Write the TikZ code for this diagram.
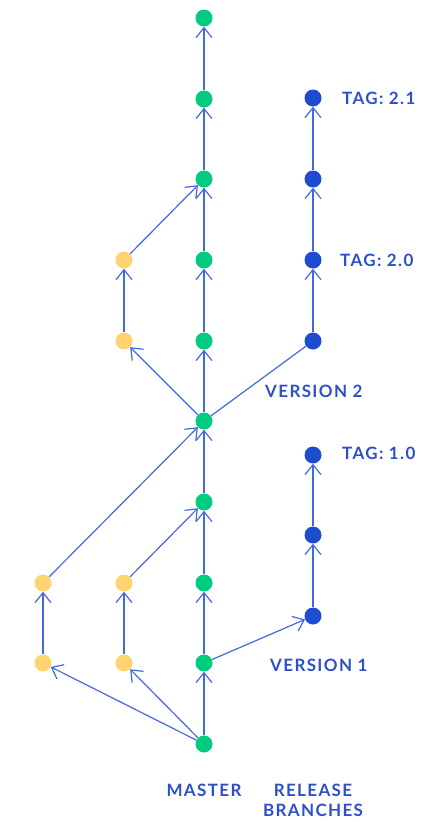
\documentclass[tikz,border=0pt]{standalone}
\usepackage{fontspec}
\setmainfont{Lato}[UprightFont=* Bold]
\newfontfamily\lblfont{Lato}[UprightFont=* Bold,LetterSpace=8]
\usetikzlibrary{arrows.meta}
\definecolor{gcol}{HTML}{00CC80}
\definecolor{ycol}{HTML}{FFD46E}
\definecolor{bcol}{HTML}{1F4BD0}
\definecolor{lcol}{HTML}{4169E1}
\definecolor{tcol}{HTML}{2C50CC}
\tikzset{
  commit/.style={circle,inner sep=0pt,minimum size=17pt},
  gc/.style={commit,fill=gcol},
  yc/.style={commit,fill=ycol},
  bc/.style={commit,fill=bcol},
  link/.style={draw=lcol,line width=1.2pt,-{Straight Barb[length=10pt,width=16pt,line width=1.2pt]}},
  plain/.style={draw=lcol,line width=1.2pt},
  lbl/.style={text=tcol,font=\lblfont\fontsize{17pt}{20pt}\selectfont,inner sep=0pt},
}
\begin{document}
\begin{tikzpicture}[x=1pt,y=-1pt]
\useasboundingbox (0,0) rectangle (435,822);
% master
\foreach \i/\yy in {0/18,1/99,2/179,3/260,4/341,5/421,6/502,7/583,8/663,9/744}
  \node[gc] (m\i) at (204,\yy) {};
% release 2
\node[bc] (b1) at (313,98) {};
\node[bc] (b2) at (313,179) {};
\node[bc] (b3) at (313,260) {};
\node[bc] (b4) at (313,341) {};
% release 1
\node[bc] (c1) at (313,455) {};
\node[bc] (c2) at (313,535) {};
\node[bc] (c3) at (313,616) {};
% features
\node[yc] (y1) at (124,260) {};
\node[yc] (y2) at (124,341) {};
\node[yc] (y3) at (43,583) {};
\node[yc] (y4) at (124,583) {};
\node[yc] (y5) at (43,663) {};
\node[yc] (y6) at (124,663) {};
% master edges
\foreach \a/\b in {1/0,2/1,3/2,4/3,5/4,6/5,7/6,8/7,9/8}
  \draw[link] (m\a) -- (m\b);
\draw[link] (b2) -- (b1);
\draw[link] (b3) -- (b2);
\draw[link] (b4) -- (b3);
\draw[plain] (m5) -- (b4);
\draw[link] (c3) -- (c2);
\draw[link] (c2) -- (c1);
\draw[link] (m8) -- (c3);
\draw[link] (y2) -- (y1);
\draw[link] (y1) -- (m2);
\draw[link] (m5) -- (y2);
\draw[link] (y3) -- (m5);
\draw[link] (y4) -- (m6);
\draw[link] (y5) -- (y3);
\draw[link] (y6) -- (y4);
\draw[link] (m9) -- (y5);
\draw[link] (m9) -- (y6);
% labels
\node[lbl,anchor=west] (t21) at (342,98) {TAG: 2.1};
\node[lbl,anchor=west] (t20) at (340,260) {TAG: 2.0};
\node[lbl,anchor=west] (t10) at (342,453) {TAG: 1.0};
\node[lbl,anchor=west] (v2) at (265,391) {VERSION 2};
\node[lbl,anchor=west] (v1) at (270,665) {VERSION 1};
\node[lbl] (ms) at (204,790) {MASTER};
\node[lbl] (rl) at (313,790) {RELEASE};
\node[lbl] (br) at (313,810) {BRANCHES};
\end{tikzpicture}
\end{document}
